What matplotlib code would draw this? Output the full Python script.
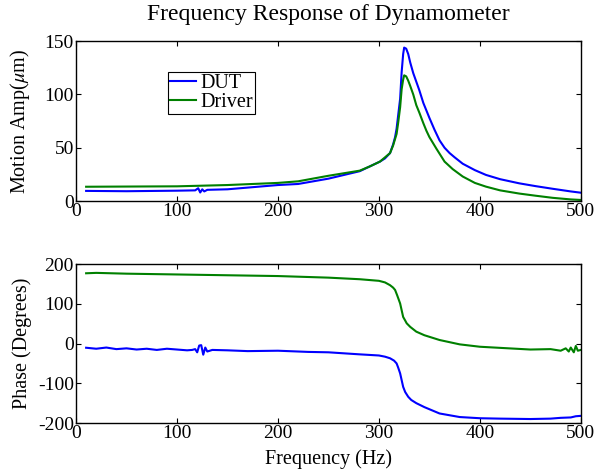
import matplotlib
matplotlib.use('Agg')
import matplotlib.pyplot as plt

# amplitude readings (um)
amp_freq_dut = [10, 50, 100, 118, 121, 123, 125, 127, 130, 150, 200, 220, 250, 281, 291, 301,
                306, 311, 314, 316, 317.5, 319, 321, 322.5, 324, 325, 327, 329, 331, 334,
                337, 340, 344, 347, 350, 355, 360, 365, 370, 375, 383, 395, 406, 420, 439,
                455, 472, 490, 500]
amp_dut = [9.5, 9.2, 9.7, 10, 12, 8, 11, 9, 10.5, 11, 15, 16, 21, 28, 32.5, 37,
           40, 45, 53, 60, 68, 80, 96, 121, 138, 144, 143, 138, 130, 120,
           112, 104, 92, 85, 78, 67, 57, 50, 45, 41, 35, 29, 24.5, 20.5, 16.6,
           14, 11.5, 9, 7.8]

amp_freq_drv = [10, 100, 150, 200, 220, 250, 281, 291, 301, 311, 314, 317.5, 319, 321, 322.5,
                324, 325, 327, 329, 331, 334, 337, 340, 344, 347, 350, 357, 365, 373,
                383, 395, 406, 420, 439, 455, 472, 490, 500]
amp_drv = [13.4, 13.8, 15, 17, 18.5, 23.7, 28.5, 32.5, 37, 45, 52, 63, 73, 88, 105,
           114, 118, 117, 113, 108, 100, 90, 83, 73, 66, 60, 49, 37, 30,
           23, 17, 13.5, 10, 7, 5, 3, 1.5, 1]

# phase readings (degrees)
ph_freq_dut = [10, 20, 30, 40, 50, 60, 70, 80, 90, 100, 110, 115, 118, 120, 122, 124, 126,
               128, 130, 135, 150, 170, 200, 230, 250, 280, 300, 306, 311, 315, 317.5,
               319, 321, 322.5, 324, 326, 329, 332, 337, 345, 360, 380, 400, 420, 450,
               470, 480, 490, 495, 500]
ph_dut = [-10.5, -13, -10, -14, -12, -15, -13, -16, -13, -15, -17, -16, -14, -22, -5, -4, -28,
          -10, -20, -16, -17, -19, -18, -21, -22, -27, -30, -33, -37, -43, -50,
          -60, -75, -92, -109, -122, -134, -142, -150, -160, -176, -185, -188, -189, -190,
          -189, -187, -186, -183, -182]

ph_freq_drv = [10, 20, 50, 100, 150, 200, 250, 281, 300, 306, 311, 314, 316, 318, 321,
               322.5, 324, 326, 327.5, 331, 337, 345, 360, 380, 400, 450, 470, 480, 485,
               488, 490, 493, 495, 497, 500]
ph_drv = [177, 178, 176, 174, 172, 170, 166, 162, 158, 154, 147, 141, 135, 122, 101,
          84, 67, 58, 51, 42, 30, 21, 9, -2, -8, -15, -14, -18, -12,
          -20, -10, -22, -6, -18, -16]

plt.rcParams['font.family'] = 'Liberation Serif'
plt.rcParams['axes.unicode_minus'] = False
plt.rcParams['mathtext.fontset'] = 'stix'

blue = '#0000ff'
green = '#008000'

fig = plt.figure(figsize=(6.01, 4.70), dpi=100)
ax1 = fig.add_axes([0.1265, 0.5723, 0.840, 0.340])
ax2 = fig.add_axes([0.1265, 0.100, 0.840, 0.338])

ax1.plot(amp_freq_dut, amp_dut, color=blue, lw=1.5, label='DUT')
ax1.plot(amp_freq_drv, amp_drv, color=green, lw=1.5, label='Driver')
ax2.plot(ph_freq_dut, ph_dut, color=blue, lw=1.5)
ax2.plot(ph_freq_drv, ph_drv, color=green, lw=1.5)

ax1.set_xlim(0, 500)
ax1.set_ylim(0, 150)
ax1.set_yticks([0, 50, 100, 150])
ax2.set_xlim(0, 500)
ax2.set_ylim(-200, 200)
ax2.set_yticks([-200, -100, 0, 100, 200])

for ax in (ax1, ax2):
    ax.set_xticks([0, 100, 200, 300, 400, 500])
    ax.tick_params(direction='in', top=True, right=True, length=3.5, width=0.8,
                   labelsize=14, pad=1.5)
    for s in ax.spines.values():
        s.set_linewidth(1.0)

ax1.set_title('Frequency Response of Dynamometer', fontsize=17, pad=15)
ax1.set_ylabel(r'Motion Amp($\mu$m)', fontsize=14.5)
ax2.set_ylabel('Phase (Degrees)', fontsize=14.5)
ax2.set_xlabel('Frequency (Hz)', fontsize=14.5)
ax1.yaxis.set_label_coords(-0.087, 0.5)
ax2.yaxis.set_label_coords(-0.087, 0.5)
ax2.xaxis.set_label_coords(0.5, -0.165)

leg = ax1.legend(loc='upper left', bbox_to_anchor=(0.182, 0.81), fontsize=14.5,
                 frameon=True, fancybox=False, edgecolor='black', framealpha=1,
                 borderpad=0.1, handlelength=1.3, handletextpad=0.2,
                 labelspacing=0.0, borderaxespad=0)
leg.get_frame().set_linewidth(0.8)

fig.savefig('out.png', dpi=100)
